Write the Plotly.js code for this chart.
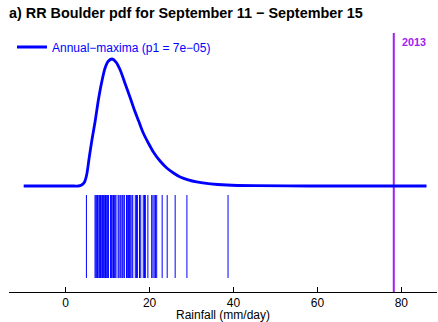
<!DOCTYPE html>
<html>
<head>
<meta charset="utf-8">
<script src="https://cdn.plot.ly/plotly-3.0.1.min.js"></script>
<style>html,body{margin:0;padding:0;background:#fff;}#chart{width:438px;height:322px;}</style>
</head>
<body>
<div id="chart"></div>
<script>
// Density curve
const rainX = [-10, 2, 3.0, 3.8, 4.5, 5.0, 5.6, 6.3, 7.0, 7.8, 8.6, 9.4, 10.2, 11.1, 12.0, 13.0, 14.2, 15.4, 16.3, 17.4, 18.5, 19.7, 20.9, 22.5, 24.1, 25.7, 27.3, 29.2, 31.2, 34.5, 38.4, 45, 58, 86];
const density = [0, 0, 0, 0.0007, 0.0028, 0.0076, 0.0194, 0.0326, 0.0443, 0.0596, 0.0721, 0.0818, 0.0866, 0.088, 0.0859, 0.0804, 0.0707, 0.061, 0.0534, 0.045, 0.0367, 0.0298, 0.0236, 0.0173, 0.0125, 0.009, 0.0062, 0.0042, 0.0028, 0.0015, 0.0007, 0.0002, 0, 0];
// Observed annual maxima (rug)
const observed = [4.95, 7.0, 7.2, 7.4, 7.6, 7.9, 8.1, 8.3, 8.6, 8.8, 9.0, 9.3, 9.5, 9.7, 10.0, 10.2, 10.7, 10.9, 11.1, 11.4, 11.6, 11.8, 12.0, 12.5, 12.7, 13.0, 13.2, 13.5, 13.7, 14.0, 14.5, 14.7, 15.0, 15.2, 15.5, 15.8, 16.0, 16.6, 16.9, 17.1, 17.6, 17.9, 18.5, 18.8, 19.0, 19.6, 20.5, 20.8, 21.1, 21.4, 21.7, 23.0, 24.2, 26.1, 28.9, 38.7];
const event2013 = 78.2;
const eventLabel = "2013";
const seriesName = "Annual\u2212maxima (p1 = 7e\u221205)";
const xTicks = [0, 20, 40, 60, 80];

// Layout helpers (pixel geometry -> data units)
const peak = Math.max(...density);
const k = peak / 127;          // density per pixel
const yMin = -106 * k, yMax = 153 * k;
const rugTop = -9 * k, rugBot = -92 * k;

const rugX = [], rugY = [];
observed.forEach(v => { rugX.push(v, v, null); rugY.push(rugTop, rugBot, null); });

const traces = [
  {x: rugX, y: rugY, mode: 'lines', line: {color: '#0000FF', width: 1}, showlegend: false, hoverinfo: 'skip'},
  {x: [event2013, event2013], y: [yMin, yMax], mode: 'lines', line: {color: '#A020F0', width: 2}, showlegend: false, hoverinfo: 'skip'},
  {x: rainX, y: density, mode: 'lines', name: seriesName, line: {color: '#0000FF', width: 2.8, shape: 'spline', smoothing: 0.8}}
];

const plotL = 9, plotW = 428, plotT = 33, plotH = 259;
const layout = {
  width: 438, height: 322,
  margin: {l: plotL, r: 438 - plotL - plotW, t: plotT, b: 322 - plotT - plotH, autoexpand: false},
  paper_bgcolor: '#fff', plot_bgcolor: '#fff',
  font: {family: 'Liberation Sans, Arial, sans-serif', size: 12, color: '#000'},
  title: {text: '<b>a) RR Boulder pdf for September 11 \u2212 September 15</b>', font: {size: 14.4, color: '#000'},
          xref: 'container', yref: 'container', x: 9/438, xanchor: 'left', y: 1 - 13/322, yanchor: 'middle'},
  xaxis: {range: [-13.5, 88.5], tickvals: xTicks, ticktext: xTicks.map(String), ticks: 'inside', ticklen: 5, tickcolor: '#000',
          showline: true, linecolor: '#000', linewidth: 1, showgrid: false, zeroline: false, automargin: true,
          title: {text: 'Rainfall (mm/day)', font: {size: 12}, standoff: 5}, tickfont: {size: 12}},
  yaxis: {range: [yMin, yMax], visible: false, showgrid: false, zeroline: false, automargin: false},
  showlegend: true,
  legend: {x: (12 - plotL) / plotW, xref: 'paper', y: (plotT + plotH - 47) / plotH, yref: 'paper', xanchor: 'left', yanchor: 'middle',
           bgcolor: 'rgba(0,0,0,0)', font: {size: 12, color: '#0000FF'}},
  annotations: [{x: event2013, y: yMax, xref: 'x', yref: 'y', text: '<b>' + eventLabel + '</b>', showarrow: false,
                 xanchor: 'left', yanchor: 'top', xshift: 6, yshift: -1, font: {size: 10.8, color: '#A020F0'}}]
};

Plotly.newPlot('chart', traces, layout, {displayModeBar: false, staticPlot: true});
</script>
</body>
</html>
